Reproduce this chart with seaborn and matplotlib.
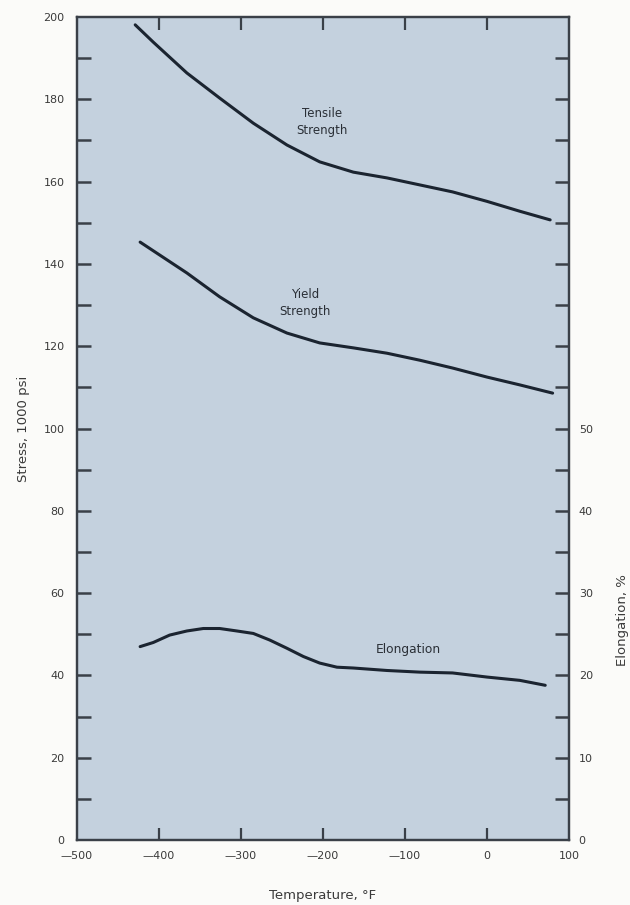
import matplotlib
matplotlib.use("Agg")
import matplotlib.pyplot as plt
import seaborn as sns
import pandas as pd
from matplotlib.ticker import MultipleLocator, FixedLocator

# Tensile strength, 1000 psi, versus temperature (deg F)
tensile_temp = [-429, -407, -366, -326, -285, -244, -204, -163, -122, -82, -42, 0, 40, 77]
tensile_stress = [198.1, 193.9, 186.4, 180.3, 174.2, 168.9, 164.8, 162.3, 160.9, 159.2, 157.5, 155.2, 152.8, 150.7]

# Yield strength, 1000 psi
yield_temp = [-423, -366, -326, -285, -244, -204, -163, -122, -82, -42, 0, 40, 80]
yield_stress = [145.3, 137.8, 132.0, 126.9, 123.2, 120.8, 119.6, 118.3, 116.6, 114.7, 112.5, 110.6, 108.6]

# Elongation, percent
elong_temp = [-423, -407, -387, -366, -346, -326, -305, -285, -265, -244, -224, -204, -183, -163,
              -122, -82, -42, 0, 40, 71]
elong_pct = [23.5, 24.0, 24.9, 25.4, 25.7, 25.7, 25.4, 25.1, 24.3, 23.3, 22.3, 21.5, 21.0, 20.9,
             20.6, 20.4, 20.3, 19.8, 19.4, 18.8]

x_ticks = [-500, -400, -300, -200, -100, 0, 100]
x_labels = ["\u2014500", "\u2014400", "\u2014300", "\u2014200", "\u2014100", "0", "100"]
stress_ticks = list(range(0, 201, 20))
elong_ticks = list(range(0, 51, 10))

sns.set_theme(style="white")
plt.rcParams["font.family"] = ["Liberation Sans Narrow", "DejaVu Sans"]

bg = "#c4d1de"
ink = "#1b2430"
spine_c = "#3a4048"
txt = "#3a3a3a"

fig = plt.figure(figsize=(6.3, 9.05), dpi=100, facecolor="#fbfbf9")
ax = fig.add_axes([0.1222, 0.0718, 0.7810, 0.9094])
ax.set_facecolor(bg)

df_t = pd.DataFrame({"temp": tensile_temp, "stress": tensile_stress})
df_y = pd.DataFrame({"temp": yield_temp, "stress": yield_stress})
sns.lineplot(data=df_t, x="temp", y="stress", ax=ax, color=ink, lw=2.2)
sns.lineplot(data=df_y, x="temp", y="stress", ax=ax, color=ink, lw=2.2)

ax.set_xlim(-500, 100)
ax.set_ylim(0, 200)

ax2 = ax.twinx()
df_e = pd.DataFrame({"temp": elong_temp, "elong": elong_pct})
sns.lineplot(data=df_e, x="temp", y="elong", ax=ax2, color=ink, lw=2.2)
ax2.set_ylim(0, 100)
ax2.set_xlim(-500, 100)

# Bottom axis: labels at every 100, tick marks only inside
ax.set_xticks(x_ticks)
ax.set_xticklabels(x_labels, fontsize=8, color=txt)
ax.tick_params(axis="x", which="major", direction="in", length=9, width=1.6, color=spine_c,
               pad=8, top=True, bottom=True)
# hide tick marks at the frame corners
for t in ax.xaxis.get_major_ticks():
    if t.get_loc() in (-500, 100):
        t.tick1line.set_visible(False)
        t.tick2line.set_visible(False)

ax.set_yticks(stress_ticks)
ax.set_yticklabels([str(v) for v in stress_ticks], fontsize=8, color=txt)
ax.yaxis.set_minor_locator(MultipleLocator(10))
ax.tick_params(axis="y", which="both", direction="in", length=10, width=1.8, color=spine_c,
               pad=9, left=True, right=False)
for t in ax.yaxis.get_major_ticks():
    if t.get_loc() in (0, 200):
        t.tick1line.set_visible(False)

ax2.yaxis.set_major_locator(FixedLocator(elong_ticks))
ax2.set_yticklabels([str(v) for v in elong_ticks], fontsize=8, color=txt)
ax2.yaxis.set_minor_locator(FixedLocator([v for v in range(5, 100, 5) if v not in elong_ticks]))
ax2.tick_params(axis="y", which="both", direction="in", length=10, width=1.8, color=spine_c,
                pad=7, right=True, left=False)
for t in ax2.yaxis.get_major_ticks():
    if t.get_loc() == 0:
        t.tick2line.set_visible(False)

ax.set_xlabel("Temperature, \u00b0F", fontsize=9.5, color=txt, labelpad=20)
ax.set_ylabel("Stress, 1000 psi", fontsize=9.5, color=txt)
ax2.set_ylabel("Elongation, %", fontsize=9.5, color=txt)
ax.yaxis.set_label_coords(-0.096, 0.5)
ax2.yaxis.set_label_coords(1.095, 0.267)

for a in (ax, ax2):
    for s in a.spines.values():
        s.set_color(spine_c)
        s.set_linewidth(1.6)
        s.set_visible(True)

ax.text(-201, 174.5, "Tensile\nStrength", ha="center", va="center", fontsize=8.5,
        color="#2a2f36", linespacing=1.45)
ax.text(-222, 130.5, "Yield\nStrength", ha="center", va="center", fontsize=8.5,
        color="#2a2f36", linespacing=1.45)
ax2.text(-96, 23.1, "Elongation", ha="center", va="center", fontsize=8.8, color="#2a2f36")

fig.savefig("out.png", dpi=100, facecolor=fig.get_facecolor())
